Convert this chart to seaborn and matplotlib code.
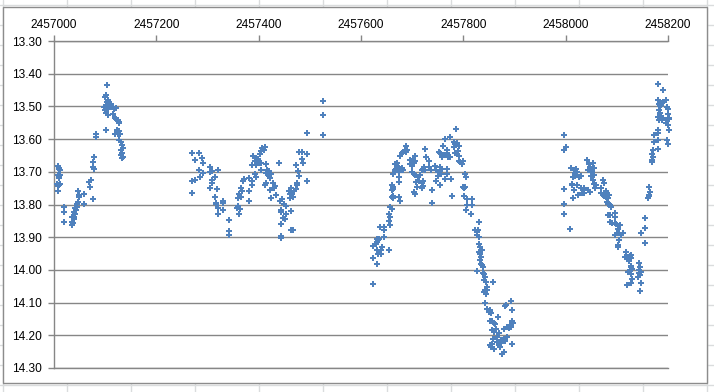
import matplotlib
matplotlib.use("Agg")
import numpy as np
import pandas as pd
import matplotlib.pyplot as plt
import seaborn as sns
from matplotlib.patches import Rectangle
from matplotlib.lines import Line2D

# Light curve: (Julian date, magnitude), one list per observing season
season1 = [
    (2457007, 13.683), (2457009, 13.690), (2457010, 13.687), (2457012, 13.695),
    (2457007, 13.710), (2457009, 13.715), (2457010, 13.720), (2457012, 13.710),
    (2457005, 13.736), (2457007, 13.744), (2457009, 13.741), (2457012, 13.738), (2457007, 13.758),
    (2457020, 13.807), (2457020, 13.822), (2457020, 13.853),
    (2457036, 13.863), (2457038, 13.856), (2457035, 13.853),
    (2457040, 13.837), (2457040, 13.845), (2457042, 13.829), (2457036, 13.839),
    (2457042, 13.812), (2457043, 13.817), (2457040, 13.822), (2457044, 13.807),
    (2457046, 13.792), (2457044, 13.797), (2457048, 13.776), (2457049, 13.771), (2457046, 13.758),
    (2457059, 13.768), (2457059, 13.797),
    (2457069, 13.731), (2457070, 13.746), (2457072, 13.726),
    (2457076, 13.670), (2457077, 13.685), (2457079, 13.690), (2457079, 13.654), (2457076, 13.784),
    (2457083, 13.585), (2457083, 13.595),
    (2457103, 13.436), (2457102, 13.466), (2457105, 13.479), (2457103, 13.486), (2457100, 13.471),
    (2457098, 13.502), (2457102, 13.497), (2457105, 13.507), (2457108, 13.502), (2457100, 13.512),
    (2457102, 13.520), (2457105, 13.527), (2457102, 13.571),
    (2457112, 13.492), (2457115, 13.502), (2457118, 13.507), (2457121, 13.505),
    (2457116, 13.522), (2457120, 13.537), (2457121, 13.540), (2457125, 13.542), (2457127, 13.547),
    (2457128, 13.550), (2457123, 13.571), (2457127, 13.575), (2457129, 13.583), (2457125, 13.585),
    (2457120, 13.585), (2457128, 13.603), (2457131, 13.608), (2457133, 13.619), (2457134, 13.626),
    (2457131, 13.634), (2457133, 13.644), (2457131, 13.649), (2457134, 13.654), (2457133, 13.659),
]

season2 = [
    (2457269, 13.644), (2457269, 13.728), (2457269, 13.766), (2457276, 13.664), (2457276, 13.726),
    (2457284, 13.644), (2457286, 13.716), (2457289, 13.657), (2457291, 13.672), (2457284, 13.693),
    (2457291, 13.704), (2457304, 13.684), (2457305, 13.702), (2457308, 13.698), (2457308, 13.726),
    (2457308, 13.733), (2457304, 13.749), (2457314, 13.716), (2457320, 13.693), (2457318, 13.754),
    (2457314, 13.777), (2457316, 13.794), (2457317, 13.799), (2457320, 13.810), (2457320, 13.830),
    (2457330, 13.789), (2457331, 13.794), (2457330, 13.818), (2457342, 13.848), (2457342, 13.881),
    (2457342, 13.893), (2457357, 13.810), (2457359, 13.805), (2457363, 13.815), (2457359, 13.779),
    (2457361, 13.769), (2457361, 13.830), (2457366, 13.749), (2457368, 13.759), (2457370, 13.728),
    (2457372, 13.723), (2457366, 13.777), (2457381, 13.720), (2457382, 13.759), (2457381, 13.789),
    (2457386, 13.728), (2457386, 13.739), (2457389, 13.652), (2457387, 13.680), (2457392, 13.667),
    (2457395, 13.657), (2457394, 13.680), (2457394, 13.716), (2457392, 13.708), (2457399, 13.662),
    (2457401, 13.673), (2457402, 13.647), (2457405, 13.637), (2457407, 13.627), (2457410, 13.632),
    (2457412, 13.625), (2457405, 13.673), (2457405, 13.696), (2457414, 13.676), (2457416, 13.693),
    (2457414, 13.703), (2457418, 13.706), (2457421, 13.698), (2457420, 13.713), (2457425, 13.708),
    (2457423, 13.720), (2457412, 13.739), (2457415, 13.733), (2457428, 13.733), (2457431, 13.744),
    (2457429, 13.749), (2457423, 13.757), (2457425, 13.781), (2457433, 13.771), (2457440, 13.673),
    (2457441, 13.789), (2457443, 13.818), (2457444, 13.822), (2457446, 13.784), (2457449, 13.797),
    (2457448, 13.840), (2457451, 13.845), (2457444, 13.860), (2457444, 13.896), (2457444, 13.901),
    (2457453, 13.805), (2457454, 13.830), (2457459, 13.759), (2457462, 13.769), (2457461, 13.779),
    (2457464, 13.749), (2457466, 13.769), (2457467, 13.777), (2457469, 13.759), (2457464, 13.820),
    (2457467, 13.879), (2457463, 13.879), (2457472, 13.754), (2457474, 13.739), (2457475, 13.733),
    (2457472, 13.680), (2457479, 13.713), (2457477, 13.698), (2457479, 13.640), (2457484, 13.640),
    (2457486, 13.673), (2457484, 13.662), (2457495, 13.647), (2457495, 13.728), (2457495, 13.581),
    (2457526, 13.483), (2457526, 13.525), (2457526, 13.588),
]

season3 = [
    (2457624, 14.042), (2457624, 13.928), (2457624, 13.965), (2457631, 13.905), (2457632, 13.915),
    (2457634, 13.910), (2457629, 13.920), (2457636, 13.905), (2457632, 13.940), (2457634, 13.950),
    (2457636, 13.945), (2457639, 13.950), (2457640, 13.940), (2457632, 13.983), (2457637, 13.869),
    (2457645, 13.869), (2457645, 13.879), (2457642, 13.930), (2457645, 13.899), (2457654, 13.938),
    (2457654, 13.849), (2457656, 13.864), (2457657, 13.839), (2457654, 13.828), (2457656, 13.808),
    (2457660, 13.813), (2457660, 13.776), (2457663, 13.773), (2457662, 13.780), (2457660, 13.739),
    (2457662, 13.747), (2457660, 13.757), (2457663, 13.752), (2457675, 13.776), (2457676, 13.788),
    (2457667, 13.676), (2457670, 13.674), (2457669, 13.691), (2457671, 13.681), (2457663, 13.707),
    (2457667, 13.696), (2457673, 13.686), (2457676, 13.694), (2457680, 13.688), (2457682, 13.696),
    (2457675, 13.701), (2457675, 13.717), (2457675, 13.732), (2457676, 13.651), (2457680, 13.644),
    (2457683, 13.638), (2457686, 13.633), (2457688, 13.620), (2457688, 13.638), (2457690, 13.633),
    (2457696, 13.664), (2457699, 13.668), (2457701, 13.661), (2457703, 13.674), (2457706, 13.668),
    (2457696, 13.676), (2457699, 13.681), (2457706, 13.651), (2457699, 13.701), (2457703, 13.707),
    (2457706, 13.709), (2457703, 13.762), (2457706, 13.767), (2457708, 13.732), (2457709, 13.745),
    (2457712, 13.717), (2457716, 13.709), (2457714, 13.727), (2457719, 13.696), (2457722, 13.691),
    (2457725, 13.696), (2457723, 13.686), (2457719, 13.735), (2457721, 13.729), (2457722, 13.742),
    (2457719, 13.749), (2457725, 13.630), (2457727, 13.656), (2457732, 13.666), (2457732, 13.686),
    (2457737, 13.696), (2457739, 13.755), (2457739, 13.794), (2457745, 13.681), (2457747, 13.696),
    (2457750, 13.712), (2457746, 13.727), (2457752, 13.701), (2457755, 13.696), (2457754, 13.686),
    (2457756, 13.707), (2457758, 13.691), (2457752, 13.638), (2457755, 13.644), (2457758, 13.656),
    (2457761, 13.648), (2457754, 13.739), (2457761, 13.620), (2457765, 13.600), (2457768, 13.633),
    (2457769, 13.644), (2457771, 13.656), (2457765, 13.722), (2457768, 13.691), (2457769, 13.707),
    (2457773, 13.593), (2457774, 13.656), (2457776, 13.722), (2457778, 13.773), (2457781, 13.610),
    (2457784, 13.615), (2457788, 13.613), (2457791, 13.620), (2457782, 13.625), (2457786, 13.570),
    (2457784, 13.641), (2457788, 13.646), (2457791, 13.651), (2457789, 13.636), (2457791, 13.666),
    (2457794, 13.671), (2457797, 13.676), (2457799, 13.666), (2457799, 13.745), (2457802, 13.749),
    (2457804, 13.747), (2457801, 13.773), (2457804, 13.707), (2457805, 13.717), (2457807, 13.783),
    (2457807, 13.803), (2457806, 13.816), (2457817, 13.783), (2457817, 13.803), (2457815, 13.828),
    (2457830, 13.854), (2457823, 13.877), (2457827, 13.884), (2457828, 13.879), (2457827, 13.894),
    (2457830, 13.899), (2457830, 13.920), (2457832, 13.930), (2457830, 13.945), (2457833, 13.950),
    (2457835, 13.960), (2457837, 13.938), (2457832, 13.970), (2457835, 13.981), (2457837, 13.986),
    (2457839, 13.991), (2457827, 14.004), (2457839, 14.009), (2457841, 14.013), (2457843, 14.021),
    (2457841, 14.031), (2457845, 14.036), (2457846, 14.052), (2457843, 14.062), (2457858, 14.036),
    (2457840, 14.067), (2457843, 14.060), (2457847, 14.062), (2457845, 14.074), (2457843, 14.100),
    (2457847, 14.121), (2457850, 14.128), (2457853, 14.123), (2457854, 14.133), (2457852, 14.125),
    (2457856, 14.155), (2457860, 14.161), (2457861, 14.165), (2457853, 14.155), (2457867, 14.145),
    (2457856, 14.184), (2457860, 14.189), (2457863, 14.182), (2457869, 14.192), (2457866, 14.204),
    (2457858, 14.212), (2457856, 14.226), (2457852, 14.229), (2457854, 14.236), (2457860, 14.243),
    (2457866, 14.219), (2457869, 14.229), (2457871, 14.236), (2457873, 14.224), (2457874, 14.214),
    (2457876, 14.214), (2457879, 14.212), (2457882, 14.216), (2457876, 14.257), (2457880, 14.250),
    (2457879, 14.182), (2457886, 14.174), (2457889, 14.179), (2457891, 14.168), (2457882, 14.111),
    (2457884, 14.108), (2457886, 14.206), (2457894, 14.094), (2457896, 14.123), (2457896, 14.155),
    (2457897, 14.161), (2457894, 14.174), (2457896, 14.226),
]

season4 = [
    (2457997, 13.586), (2457997, 13.634), (2458000, 13.624), (2457997, 13.754), (2457997, 13.797),
    (2457997, 13.829), (2458009, 13.876), (2458010, 13.687), (2458012, 13.741), (2458013, 13.736),
    (2458017, 13.695), (2458018, 13.705), (2458020, 13.690), (2458015, 13.715), (2458022, 13.700),
    (2458018, 13.713), (2458017, 13.756), (2458015, 13.781), (2458023, 13.741), (2458025, 13.771),
    (2458027, 13.715), (2458030, 13.713), (2458030, 13.751), (2458033, 13.756), (2458035, 13.766),
    (2458036, 13.751), (2458031, 13.764), (2458042, 13.664), (2458043, 13.695), (2458044, 13.756),
    (2458046, 13.675), (2458048, 13.685), (2458049, 13.690), (2458051, 13.700), (2458053, 13.673),
    (2458055, 13.687), (2458049, 13.713), (2458053, 13.725), (2458056, 13.710), (2458048, 13.761),
    (2458056, 13.736), (2458057, 13.751), (2458059, 13.741), (2458072, 13.725), (2458074, 13.734),
    (2458070, 13.751), (2458069, 13.766), (2458072, 13.771), (2458076, 13.764), (2458079, 13.776),
    (2458074, 13.774), (2458079, 13.758), (2458082, 13.781), (2458081, 13.792), (2458085, 13.771),
    (2458083, 13.797), (2458087, 13.802), (2458089, 13.807), (2458085, 13.797), (2458083, 13.832),
    (2458087, 13.832), (2458087, 13.853), (2458090, 13.858), (2458096, 13.825), (2458096, 13.839),
    (2458096, 13.858), (2458098, 13.860), (2458096, 13.893), (2458100, 13.888), (2458102, 13.876),
    (2458105, 13.888), (2458108, 13.893), (2458112, 13.888), (2458102, 13.924), (2458105, 13.909),
    (2458102, 13.931), (2458107, 13.863), (2458118, 13.944), (2458120, 13.961), (2458125, 13.957),
    (2458128, 13.964), (2458123, 13.972), (2458127, 13.954), (2458115, 13.961), (2458127, 13.988),
    (2458125, 14.000), (2458129, 13.998), (2458128, 13.990), (2458121, 14.005), (2458128, 14.012),
    (2458129, 14.029), (2458127, 14.041), (2458120, 14.046), (2458144, 13.980), (2458146, 13.990),
    (2458144, 14.000), (2458147, 14.005), (2458144, 14.010), (2458146, 14.015), (2458142, 14.022),
    (2458147, 14.041), (2458146, 14.066), (2458147, 13.888), (2458156, 13.842), (2458156, 13.873),
    (2458156, 13.917), (2458162, 13.748), (2458164, 13.761), (2458162, 13.774), (2458161, 13.781),
    (2458163, 13.771), (2458168, 13.664), (2458170, 13.656), (2458168, 13.646), (2458170, 13.634),
    (2458169, 13.670), (2458172, 13.586), (2458172, 13.608), (2458180, 13.573), (2458181, 13.581),
    (2458180, 13.603), (2458180, 13.629), (2458181, 13.431), (2458190, 13.449), (2458181, 13.479),
    (2458183, 13.492), (2458185, 13.500), (2458187, 13.497), (2458188, 13.489), (2458190, 13.486),
    (2458183, 13.512), (2458185, 13.520), (2458187, 13.530), (2458190, 13.537), (2458188, 13.542),
    (2458181, 13.532), (2458183, 13.542), (2458196, 13.479), (2458198, 13.502), (2458200, 13.507),
    (2458200, 13.522), (2458201, 13.534), (2458198, 13.542), (2458201, 13.540), (2458196, 13.551),
    (2458200, 13.558), (2458201, 13.571), (2458198, 13.603), (2458200, 13.614),
]

x_ticks = [2457000, 2457200, 2457400, 2457600, 2457800, 2458000, 2458200]
y_ticks = [13.30, 13.40, 13.50, 13.60, 13.70, 13.80, 13.90, 14.00, 14.10, 14.20, 14.30]

df = pd.concat([pd.DataFrame(s, columns=['JD', 'mag'])
                for s in [season1, season2, season3, season4]], ignore_index=True)

sns.set_style('white')
plt.rcParams['font.family'] = ['Liberation Sans', 'DejaVu Sans']

W, H = 714, 392
fig = plt.figure(figsize=(W / 100, H / 100), dpi=100)


def fx(px):
    return px / W


def fy(py):
    return 1 - py / H


# spreadsheet cells behind the chart object
for cx in range(3, W, 64):
    fig.add_artist(Line2D([fx(cx)] * 2, [0, 1], color='#dadcdd', lw=1, zorder=-3))
for ry in range(5, H, 20):
    fig.add_artist(Line2D([0, 1], [fy(ry)] * 2, color='#dadcdd', lw=1, zorder=-3))
fig.add_artist(Rectangle((fx(3), fy(383)), fx(707) - fx(3), fy(7) - fy(383),
                         facecolor='white', edgecolor='#8c8c8c', lw=1, zorder=-2))

ax = fig.add_axes([fx(54), fy(368), fx(668) - fx(54), fy(41) - fy(368)])
ax.patch.set_alpha(0)

sns.scatterplot(data=df, x='JD', y='mag', marker='P', s=20, color='#4f81bd',
                linewidth=0, clip_on=False, ax=ax, zorder=3)

ax.set_xlim(x_ticks[0], x_ticks[-1])
ax.set_ylim(y_ticks[-1], y_ticks[0])
ax.set_xticks(x_ticks)
ax.set_xticklabels([str(v) for v in x_ticks])
ax.set_yticks(y_ticks)
ax.set_yticklabels([f'{v:.2f}' for v in y_ticks])
ax.set_xlabel('')
ax.set_ylabel('')

ax.xaxis.tick_top()
ax.yaxis.grid(True, color='#868686', lw=1)
ax.xaxis.grid(False)
ax.set_axisbelow(True)

for side in ['left', 'top', 'bottom']:
    ax.spines[side].set_color('#868686')
    ax.spines[side].set_linewidth(1)
ax.spines['right'].set_visible(False)

ax.tick_params(axis='y', left=True, direction='out', length=4, width=1,
               color='#868686', pad=5, labelsize=8.6, labelcolor='black')
ax.tick_params(axis='x', top=True, bottom=False, direction='out', length=4, width=1,
               color='#868686', pad=3, labelsize=8.6, labelcolor='black')

fig.savefig('out.png', dpi=100)
